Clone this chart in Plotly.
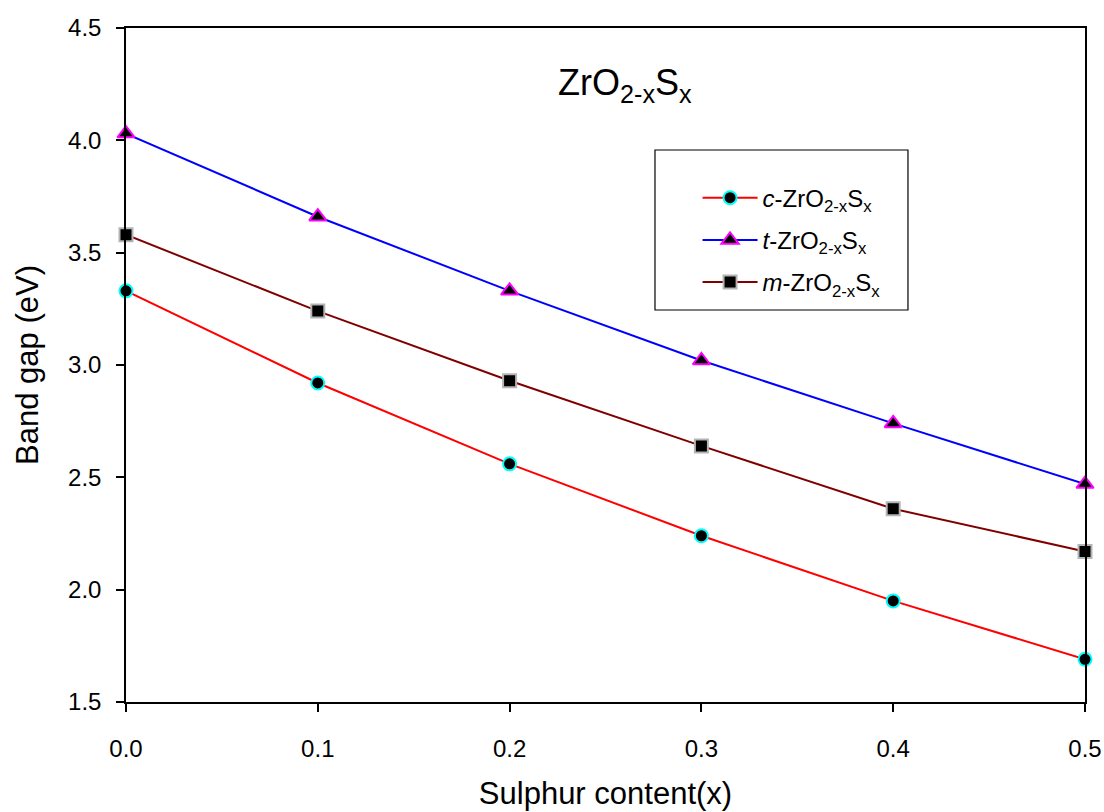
import plotly.graph_objects as go

x_vals = [0.0, 0.1, 0.2, 0.3, 0.4, 0.5]
c_gap = [3.33, 2.92, 2.56, 2.24, 1.95, 1.69]
t_gap = [4.03, 3.66, 3.33, 3.02, 2.74, 2.47]
m_gap = [3.58, 3.24, 2.93, 2.64, 2.36, 2.17]

series = [
    ("<i>c</i>-ZrO<sub>2-x</sub>S<sub>x</sub>", c_gap, "#ff0000", "circle", "#00ffff", 13),
    ("<i>t</i>-ZrO<sub>2-x</sub>S<sub>x</sub>", t_gap, "#0000ff", "triangle-up", "#ff00ff", 15),
    ("<i>m</i>-ZrO<sub>2-x</sub>S<sub>x</sub>", m_gap, "#800000", "square", "#b4b4b4", 13),
]

FONT = "Liberation Sans, Arial, sans-serif"
fig = go.Figure()
for i, (name, ys, lc, sym, mc, ms) in enumerate(series):
    fig.add_trace(go.Scatter(
        x=x_vals, y=ys, name=name, mode="lines+markers",
        legendgroup=f"g{i}",
        line=dict(color=lc, width=2),
        marker=dict(symbol=sym, size=ms, color="black", line=dict(color=mc, width=2)),
        cliponaxis=False,
    ))

axis_common = dict(
    showline=True, linecolor="black", linewidth=1.5, mirror=True,
    ticks="outside", ticklen=8, tickwidth=1.5, tickcolor="black",
    showgrid=False, zeroline=False, automargin=False,
    tickfont=dict(family=FONT, size=24, color="black"),
    tickformat=".1f",
)
fig.update_xaxes(range=[0, 0.5], dtick=0.1, ticklabelstandoff=16,
                 title=dict(text="Sulphur content(x)", font=dict(family=FONT, size=31, color="black"), standoff=22),
                 **axis_common)
fig.update_yaxes(range=[1.5, 4.5], dtick=0.5, ticklabelstandoff=10,
                 title=dict(text="Band gap (eV)", font=dict(family=FONT, size=31, color="black"), standoff=20),
                 **axis_common)

fig.add_annotation(text="ZrO<sub>2-x</sub>S<sub>x</sub>", x=0.52, y=0.915, xref="paper", yref="paper",
                   showarrow=False, font=dict(family=FONT, size=36, color="black"), xanchor="center", yanchor="middle")

# legend frame
fig.add_shape(type="rect", xref="paper", yref="paper", x0=0.5516, x1=0.8154, y0=0.5816, y1=0.819,
              line=dict(color="black", width=1.2), fillcolor="white", layer="above")

fig.update_layout(
    width=1104, height=812,
    margin=dict(l=126, r=19, t=28, b=110),
    paper_bgcolor="white", plot_bgcolor="white",
    showlegend=True,
    legend=dict(x=0.596, y=0.781, xanchor="left", yanchor="top",
                borderwidth=0, bgcolor="rgba(0,0,0,0)",
                font=dict(family=FONT, size=24, color="black"),
                itemwidth=55,
                traceorder="grouped", tracegroupgap=8),
)
fig.write_html("out.html")
